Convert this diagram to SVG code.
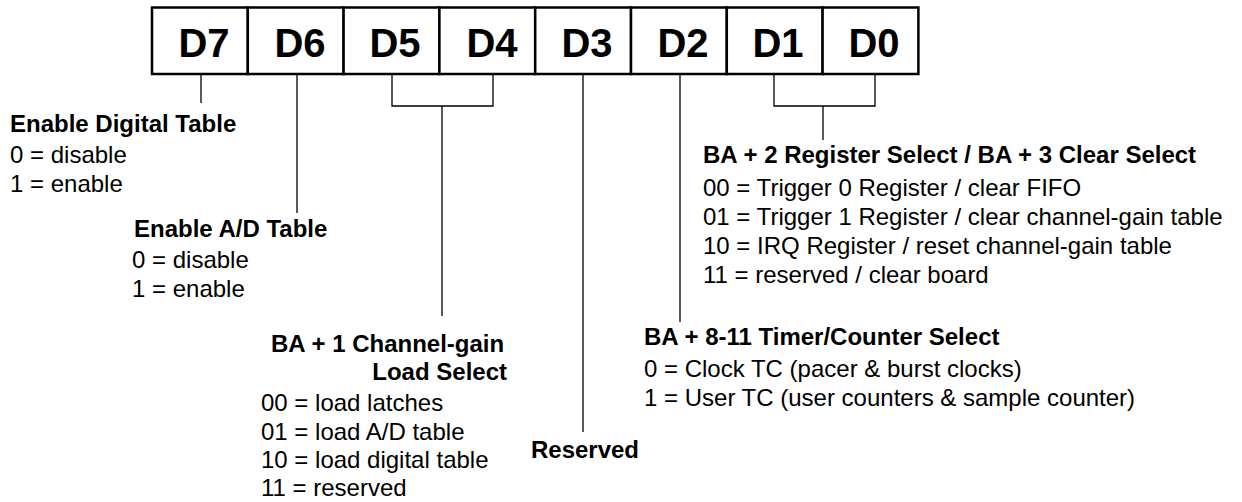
<svg xmlns="http://www.w3.org/2000/svg" width="1242" height="502" viewBox="0 0 1242 502">
<style>
.bit{font-family:"Liberation Sans",Arial,sans-serif;font-weight:bold;font-size:40px;fill:#000;text-anchor:middle}
.h{font-family:"Liberation Sans",Arial,sans-serif;font-weight:bold;font-size:24px;fill:#000}
.t{font-family:"Liberation Sans",Arial,sans-serif;font-size:24px;fill:#000}
.cell{fill:#fff;stroke:#000;stroke-width:2.5}
.ln{fill:none;stroke:#000;stroke-width:1.3}
</style>
<rect width="1242" height="502" fill="#fff"/>
<g id="register">
<g id="d7"><rect class="cell" x="152" y="7.5" width="95.8" height="66.5"/><text class="bit" x="204" y="57">D7</text></g>
<g id="d6"><rect class="cell" x="247.8" y="7.5" width="95.8" height="66.5"/><text class="bit" x="300" y="57">D6</text></g>
<g id="d5"><rect class="cell" x="343.6" y="7.5" width="95.8" height="66.5"/><text class="bit" x="395" y="57">D5</text></g>
<g id="d4"><rect class="cell" x="439.4" y="7.5" width="95.8" height="66.5"/><text class="bit" x="492" y="57">D4</text></g>
<g id="d3"><rect class="cell" x="535.2" y="7.5" width="95.8" height="66.5"/><text class="bit" x="587" y="57">D3</text></g>
<g id="d2"><rect class="cell" x="631" y="7.5" width="95.8" height="66.5"/><text class="bit" x="683" y="57">D2</text></g>
<g id="d1"><rect class="cell" x="726.8" y="7.5" width="95.8" height="66.5"/><text class="bit" x="778" y="57">D1</text></g>
<g id="d0"><rect class="cell" x="822.6" y="7.5" width="95.8" height="66.5"/><text class="bit" x="874" y="57">D0</text></g>
</g>
<g id="connectors">
<path class="ln" d="M201 75V103"/>
<path class="ln" d="M297 75V213"/>
<path class="ln" d="M392 75V106H493V75M442 106V316"/>
<path class="ln" d="M583 75V432"/>
<path class="ln" d="M680 75V322"/>
<path class="ln" d="M774 75V106H875V75M823 106V140"/>
</g>
<g id="enable-digital">
<text class="h" x="10" y="132">Enable Digital Table</text>
<text class="t" x="10" y="163">0 = disable</text>
<text class="t" x="10" y="192">1 = enable</text>
</g>
<g id="enable-ad">
<text class="h" x="134" y="237">Enable A/D Table</text>
<text class="t" x="132" y="268">0 = disable</text>
<text class="t" x="132" y="297">1 = enable</text>
</g>
<g id="channel-gain">
<text class="h" x="271" y="352">BA + 1 Channel-gain</text>
<text class="h" x="507" y="380" text-anchor="end">Load Select</text>
<text class="t" x="261" y="411">00 = load latches</text>
<text class="t" x="261" y="440">01 = load A/D table</text>
<text class="t" x="261" y="468">10 = load digital table</text>
<text class="t" x="261" y="496">11 = reserved</text>
</g>
<g id="reserved">
<text class="h" x="585" y="458" text-anchor="middle">Reserved</text>
</g>
<g id="timer">
<text class="h" x="644" y="345">BA + 8-11 Timer/Counter Select</text>
<text class="t" x="644" y="377">0 = Clock TC (pacer &amp; burst clocks)</text>
<text class="t" x="644" y="406">1 = User TC (user counters &amp; sample counter)</text>
</g>
<g id="register-select">
<text class="h" x="703" y="163">BA + 2 Register Select / BA + 3 Clear Select</text>
<text class="t" x="703" y="196">00 = Trigger 0 Register / clear FIFO</text>
<text class="t" x="703" y="225">01 = Trigger 1 Register / clear channel-gain table</text>
<text class="t" x="703" y="254">10 = IRQ Register / reset channel-gain table</text>
<text class="t" x="703" y="283">11 = reserved / clear board</text>
</g>
</svg>
